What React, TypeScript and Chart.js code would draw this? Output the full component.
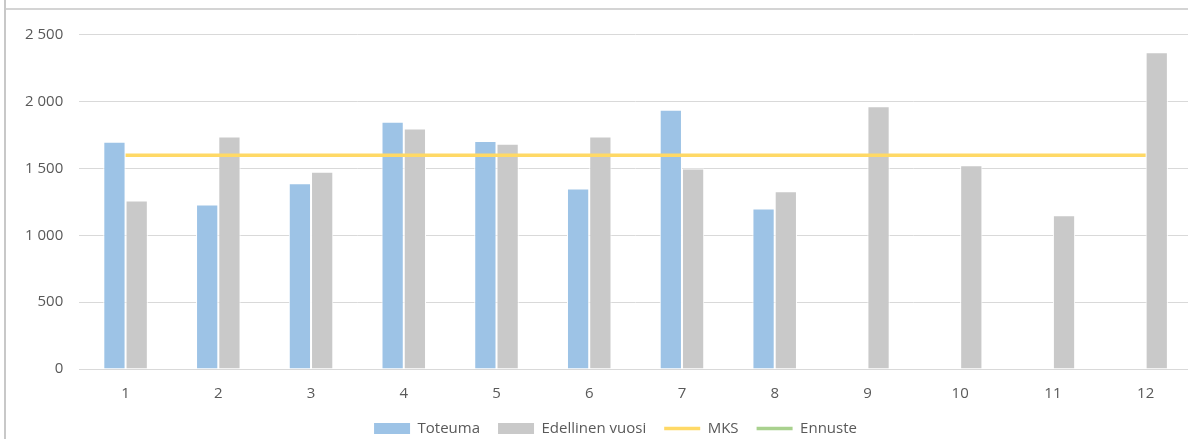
import React, { useEffect, useRef } from "react";
import { Chart, registerables } from "chart.js";

Chart.register(...registerables);

const categories = ["1", "2", "3", "4", "5", "6", "7", "8", "9", "10", "11", "12"];
const toteuma: (number | null)[] = [1700, 1230, 1390, 1850, 1705, 1350, 1940, 1200, null, null, null, null];
const edellinenVuosi: number[] = [1260, 1740, 1475, 1800, 1685, 1740, 1500, 1330, 1965, 1525, 1150, 2370];
const mks: number[] = [1600, 1600, 1600, 1600, 1600, 1600, 1600, 1600, 1600, 1600, 1600, 1600];
const ennuste: (number | null)[] = [null, null, null, null, null, null, null, null, null, null, null, null];
const yTicks: number[] = [0, 500, 1000, 1500, 2000, 2500, 3000];

const FONT = "'Open Sans', 'Noto Sans', sans-serif";
const TEXT = "#595959";
const LEGEND_SHIFT_Y = -16;
const LEGEND_SHIFT_X = 15;

const legendShift = {
  id: "legendShift",
  afterLayout(chart: any) {
    const lg = chart.legend;
    if (lg) {
      lg.top += LEGEND_SHIFT_Y;
      lg.bottom += LEGEND_SHIFT_Y;
      lg.left += LEGEND_SHIFT_X;
      lg.right += LEGEND_SHIFT_X;
    }
  },
};

export default function App() {
  const ref = useRef<HTMLCanvasElement | null>(null);

  useEffect(() => {
    if (!ref.current) return;
    const chart = new Chart(ref.current, {
      type: "bar",
      data: {
        labels: categories,
        datasets: [
          {
            type: "bar",
            label: "Toteuma",
            data: toteuma,
            backgroundColor: "#9DC3E6",
            borderColor: "#ffffff",
            borderWidth: 1,
            order: 2,
            categoryPercentage: 0.48,
            barPercentage: 1,
          },
          {
            type: "bar",
            label: "Edellinen vuosi",
            data: edellinenVuosi,
            backgroundColor: "#C9C9C9",
            borderColor: "#ffffff",
            borderWidth: 1,
            order: 2,
            categoryPercentage: 0.48,
            barPercentage: 1,
          },
          {
            type: "line",
            label: "MKS",
            data: mks,
            borderColor: "#FFD966",
            backgroundColor: "#FFD966",
            borderWidth: 3.5,
            pointRadius: 0,
            order: 0,
          },
          {
            type: "line",
            label: "Ennuste",
            data: ennuste,
            borderColor: "#A9D18E",
            backgroundColor: "#A9D18E",
            borderWidth: 3.5,
            pointRadius: 0,
            order: 0,
          },
        ] as any,
      },
      options: {
        animation: false,
        responsive: false,
        maintainAspectRatio: false,
        layout: { padding: { left: 9, right: 8, top: 0, bottom: 0 } },
        plugins: {
          tooltip: { enabled: false },
          legend: {
            position: "bottom",
            labels: {
              usePointStyle: true,
              pointStyleWidth: 36,
              boxHeight: 11,
              padding: 18,
              color: TEXT,
              font: { family: FONT, size: 15 },
              generateLabels: (c: any) =>
                c.data.datasets.map((ds: any, i: number) => {
                  const isLine = ds.type === "line";
                  return {
                    text: ds.label,
                    fillStyle: isLine ? "rgba(0,0,0,0)" : ds.backgroundColor,
                    strokeStyle: isLine ? ds.borderColor : ds.backgroundColor,
                    lineWidth: isLine ? 3.5 : 0,
                    pointStyle: isLine ? "line" : "rect",
                    fontColor: TEXT,
                    hidden: false,
                    datasetIndex: i,
                  };
                }),
            },
          },
        },
        scales: {
          x: {
            grid: { display: false, drawTicks: false },
            border: { display: true, color: "#D9D9D9", width: 1 },
            ticks: { color: TEXT, font: { family: FONT, size: 15 }, padding: 16 },
          },
          y: {
            min: yTicks[0],
            max: yTicks[yTicks.length - 1],
            afterBuildTicks: (axis: any) => {
              axis.ticks = yTicks.map((v) => ({ value: v }));
            },
            grid: { color: "#D9D9D9", drawTicks: false, lineWidth: 1 },
            border: { display: false },
            ticks: {
              color: TEXT,
              font: { family: FONT, size: 15 },
              padding: 16,
              callback: (v: any) => String(v).replace(/\B(?=(\d{3})+(?!\d))/g, " "),
            },
          },
        },
      },
      plugins: [legendShift],
    });
    return () => chart.destroy();
  }, []);

  return (
    <div style={{ position: "fixed", inset: 0, overflow: "hidden", background: "#fff" }}>
      <canvas
        ref={ref}
        width={1200}
        height={519}
        style={{ position: "absolute", left: 0, top: -57, width: 1200, height: 519 }}
      />
      <div style={{ position: "absolute", left: 4, top: 0, width: 2, height: 439, background: "#C8C8C8" }} />
      <div style={{ position: "absolute", left: 6, top: 8, right: 0, height: 2, background: "#D4D4D4" }} />
    </div>
  );
}
